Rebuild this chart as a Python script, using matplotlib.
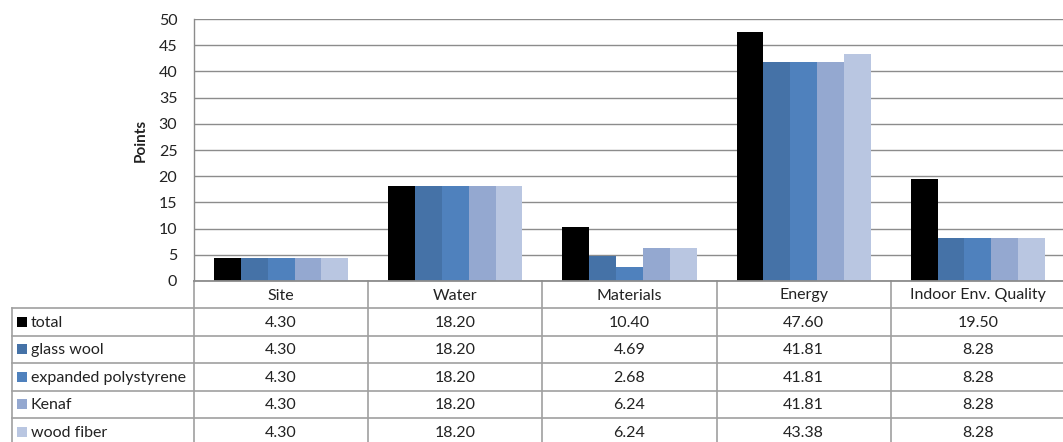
import matplotlib
matplotlib.use('Agg')
import matplotlib.pyplot as plt
import numpy as np

categories = ['Site', 'Water', 'Materials', 'Energy', 'Indoor Env. Quality']
series_names = ['total', 'glass wool', 'expanded polystyrene', 'Kenaf', 'wood fiber']
total = [4.30, 18.20, 10.40, 47.60, 19.50]
glass_wool = [4.30, 18.20, 4.69, 41.81, 8.28]
eps = [4.30, 18.20, 2.68, 41.81, 8.28]
kenaf = [4.30, 18.20, 6.24, 41.81, 8.28]
wood_fiber = [4.30, 18.20, 6.24, 43.38, 8.28]
colors = ['#000000', '#4572A7', '#4F81BD', '#94A8D0', '#B9C6E1']

plt.rcParams['font.family'] = ['Lato', 'DejaVu Sans']
txt_color = '#222222'
fs = 11.5

W, H = 1063, 442
fig = plt.figure(figsize=(W / 100, H / 100), dpi=100)

# plot area in pixel coords
x0, y_top, y_bot = 194, 19, 281
col_w = 174.2
ax = fig.add_axes([x0 / W, (H - y_bot) / H, 5 * col_w / W, (y_bot - y_top) / H])

all_series = [total, glass_wool, eps, kenaf, wood_fiber]
x = np.arange(len(categories))
width = 0.154
for i, (vals, c) in enumerate(zip(all_series, colors)):
    ax.bar(x + (i - 2) * width, vals, width, color=c, linewidth=0, zorder=3)

ax.set_xlim(-0.5, len(categories) - 0.5)
ax.set_ylim(0, 50)
ax.set_yticks(range(0, 51, 5))
ax.set_xticks([])
ax.yaxis.grid(True, color='#8c8c8c', linewidth=1.0, zorder=0)
ax.tick_params(axis='y', length=0, pad=12, labelsize=fs, labelcolor=txt_color)
for s in ['top', 'right', 'bottom']:
    ax.spines[s].set_visible(False)
ax.spines['left'].set_color('#8c8c8c')
ax.spines['left'].set_linewidth(1.0)

fig.text(141 / W, 1 - 140 / H, 'Points', rotation=90, ha='center', va='center',
         fontsize=fs - 0.5, fontweight='bold', color=txt_color)

# data table drawn on an overlay in pixel coordinates
ov = fig.add_axes([0, 0, 1, 1])
ov.set_xlim(0, W)
ov.set_ylim(H, 0)
ov.axis('off')
lc = '#a0a0a0'
lw = 1.2
left = 12
head_bot = 308
row_h = 27.5
n_rows = len(series_names)
bottom = head_bot + n_rows * row_h
col_edges = [x0 + k * col_w for k in range(len(categories) + 1)]

# vertical lines
for k, cx in enumerate(col_edges):
    ov.plot([cx, cx], [y_bot, bottom], color=lc, lw=lw)
ov.plot([left, left], [head_bot, bottom], color=lc, lw=lw)
# horizontal lines
ov.plot([x0, col_edges[-1]], [y_bot, y_bot], color='#8c8c8c', lw=1.3)
for r in range(n_rows + 1):
    yy = head_bot + r * row_h
    ov.plot([left, col_edges[-1]], [yy, yy], color=lc, lw=lw)

# header
for k, cat in enumerate(categories):
    ov.text(x0 + (k + 0.5) * col_w, (y_bot + head_bot) / 2 + 1, cat, ha='center', va='center',
            fontsize=fs, color=txt_color)

# rows
for r, (name, vals, c) in enumerate(zip(series_names, all_series, colors)):
    yc = head_bot + (r + 0.5) * row_h + 1
    ov.add_patch(plt.Rectangle((17, yc - 6), 10, 10, color=c, lw=0))
    ov.text(31, yc, name, ha='left', va='center', fontsize=fs, color=txt_color)
    for k, v in enumerate(vals):
        ov.text(x0 + (k + 0.5) * col_w, yc, '%.2f' % v, ha='center', va='center',
                fontsize=fs, color=txt_color)

fig.savefig('out.png', dpi=100)
